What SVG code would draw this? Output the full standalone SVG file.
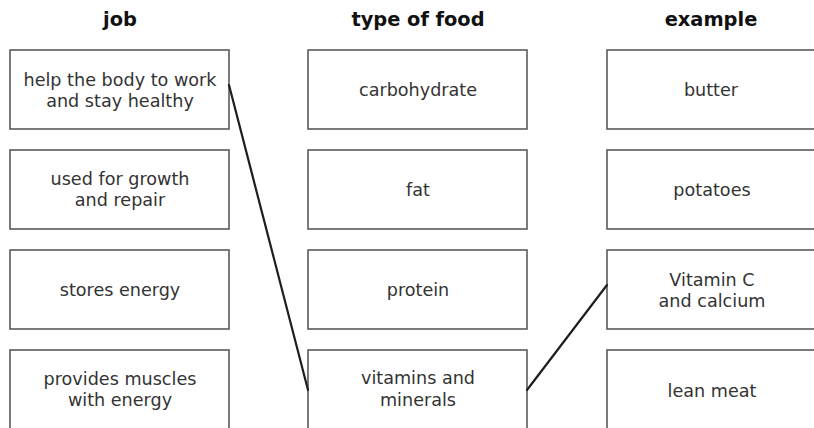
<svg xmlns="http://www.w3.org/2000/svg" width="814" height="428" viewBox="0 0 814 428">
<style>
.box{fill:#fff;stroke:#5a5a5a;stroke-width:1.6}
.t{font-family:"DejaVu Sans",Verdana,sans-serif;font-size:17.6px;fill:#333;text-anchor:middle}
.h{font-family:"DejaVu Sans",Verdana,sans-serif;font-size:19.4px;font-weight:bold;fill:#111;text-anchor:middle}
.c{stroke:#1e1e1e;stroke-width:2.2;fill:none;stroke-linecap:round}
</style>
<rect width="814" height="428" fill="#fff"/>
<g id="headings">
<text class="h" x="120" y="26">job</text>
<text class="h" x="418" y="26">type of food</text>
<text class="h" x="711" y="26">example</text>
</g>
<g id="job1"><rect class="box" x="10" y="50" width="219" height="79"/><text class="t" x="120" y="86">help the body to work</text><text class="t" x="120" y="107">and stay healthy</text></g>
<g id="job2"><rect class="box" x="10" y="150" width="219" height="79"/><text class="t" x="120" y="185">used for growth</text><text class="t" x="120" y="206">and repair</text></g>
<g id="job3"><rect class="box" x="10" y="250" width="219" height="79"/><text class="t" x="120" y="296">stores energy</text></g>
<g id="job4"><rect class="box" x="10" y="350" width="219" height="90"/><text class="t" x="120" y="385">provides muscles</text><text class="t" x="120" y="406">with energy</text></g>
<g id="food1"><rect class="box" x="308" y="50" width="219" height="79"/><text class="t" x="418" y="96">carbohydrate</text></g>
<g id="food2"><rect class="box" x="308" y="150" width="219" height="79"/><text class="t" x="418" y="196">fat</text></g>
<g id="food3"><rect class="box" x="308" y="250" width="219" height="79"/><text class="t" x="418" y="296">protein</text></g>
<g id="food4"><rect class="box" x="308" y="350" width="219" height="90"/><text class="t" x="418" y="384">vitamins and</text><text class="t" x="418" y="406">minerals</text></g>
<g id="ex1"><rect class="box" x="607" y="50" width="215" height="79"/><text class="t" x="711" y="96">butter</text></g>
<g id="ex2"><rect class="box" x="607" y="150" width="215" height="79"/><text class="t" x="712" y="196">potatoes</text></g>
<g id="ex3"><rect class="box" x="607" y="250" width="215" height="79"/><text class="t" x="712" y="286">Vitamin C</text><text class="t" x="712" y="307">and calcium</text></g>
<g id="ex4"><rect class="box" x="607" y="350" width="215" height="90"/><text class="t" x="712" y="397">lean meat</text></g>
<g id="connectors">
<line class="c" x1="229" y1="85" x2="308" y2="390"/>
<line class="c" x1="527" y1="390" x2="607" y2="285"/>
</g>
</svg>
